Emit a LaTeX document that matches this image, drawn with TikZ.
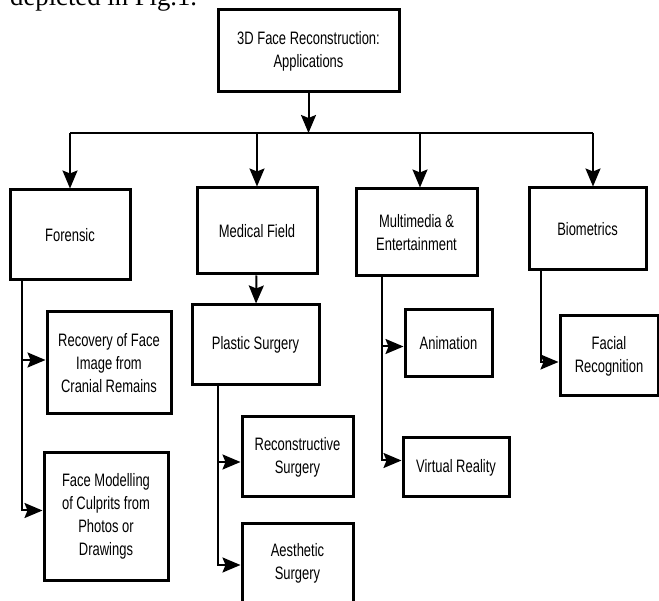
\documentclass[tikz,border=0pt]{standalone}
\usepackage{fontspec}
\setmainfont{Liberation Serif}
\newfontfamily\boxfont[FakeStretch=0.72]{Liberation Sans}
\usetikzlibrary{arrows.meta}
\tikzstyle{box} = [draw, line width=3pt, inner sep=0pt, align=center, font=\boxfont\fontsize{18}{23}\selectfont]
\tikzstyle{line} = [draw, line width=2pt, -{Stealth[length=18pt,width=15pt,inset=3pt]}]
\tikzstyle{bus} = [draw, line width=1.5pt]

\begin{document}
\begin{tikzpicture}[x=1pt, y=-1pt]
    \useasboundingbox (0,0) rectangle (659,601);
    % text of the page above the figure
    \node [anchor=base west, inner sep=0pt, font=\fontsize{26.7}{30}\selectfont] (caption) at (10,6) {depicted in Fig.1.};
    % top level
    \node [box, minimum width=181pt, minimum height=82pt] (apps) at (308.5,51) {3D Face Reconstruction:\\Applications};
    \coordinate (busF) at (70,133);
    \coordinate (busM) at (257,133);
    \coordinate (busE) at (420,133);
    \coordinate (busB) at (593,133);
    \coordinate (busA) at (308.5,133);
    % second level
    \node [box, minimum width=120pt, minimum height=90pt] (forensic) at (70,235) {Forensic};
    \node [box, minimum width=120pt, minimum height=86pt] (medical) at (257,231) {Medical Field};
    \node [box, minimum width=121pt, minimum height=87pt] (multimedia) at (416.5,232.5) {Multimedia \&\\Entertainment};
    \node [box, minimum width=117pt, minimum height=82pt] (biometrics) at (587.5,229) {Biometrics};
    % third level
    \node [box, minimum width=124pt, minimum height=102pt] (recovery) at (109,363) {Recovery of Face\\Image from\\Cranial Remains};
    \node [box, minimum width=124pt, minimum height=127pt] (culprits) at (106,516.5) {Face Modelling\\of Culprits from\\Photos or\\Drawings};
    \node [box, minimum width=127pt, minimum height=80pt] (plastic) at (255.5,345) {Plastic Surgery};
    \node [box, minimum width=111pt, minimum height=80pt] (reconstructive) at (297.5,457) {Reconstructive\\Surgery};
    \node [box, minimum width=111pt, minimum height=80pt] (aesthetic) at (297.5,563) {Aesthetic\\Surgery};
    \node [box, minimum width=87pt, minimum height=67pt] (animation) at (448.5,343.5) {Animation};
    \node [box, minimum width=106pt, minimum height=59pt] (virtual) at (456,467.5) {Virtual Reality};
    \node [box, minimum width=98pt, minimum height=80pt] (facial) at (609,356) {Facial\\Recognition};
    % connectors
    \path [line] (apps) -- (busA);
    \path [bus] (busF) -- (busB);
    \path [line] (busF) -- (forensic);
    \path [line] (busM) -- (busM |- medical.north);
    \path [line] (busE) -- (busE |- multimedia.north);
    \path [line] (busB) -- (busB |- biometrics.north);
    \path [line] (medical) -- (plastic);
    \path [line] ([xshift=13pt]forensic.south west) |- ([yshift=3pt]recovery.west);
    \path [line] ([xshift=13pt]forensic.south west) |- ([yshift=6pt]culprits.west);
    \path [line] ([xshift=27pt]plastic.south west) |- ([yshift=-5pt]reconstructive.west);
    \path [line] ([xshift=27pt]plastic.south west) |- ([yshift=-2pt]aesthetic.west);
    \path [line] ([xshift=27pt]multimedia.south west) |- ([yshift=-3pt]animation.west);
    \path [line] ([xshift=27pt]multimedia.south west) |- ([yshift=7pt]virtual.west);
    \path [line] ([xshift=13pt]biometrics.south west) |- ([yshift=-6pt]facial.west);
\end{tikzpicture}
\end{document}
